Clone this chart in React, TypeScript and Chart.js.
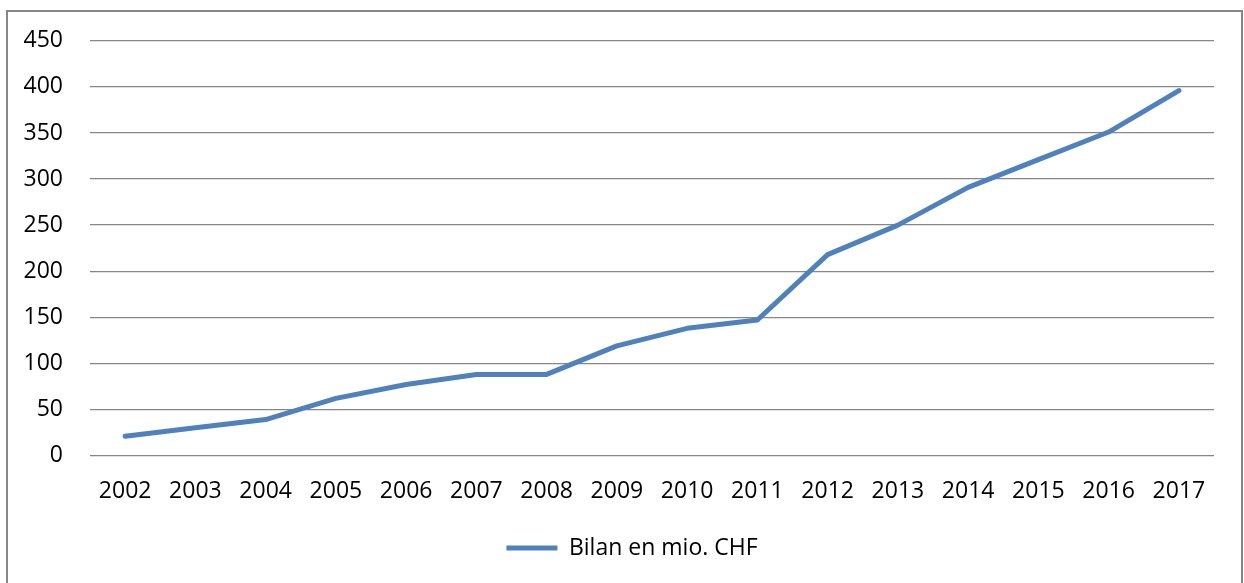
import React, { useEffect, useRef } from "react";
import { Chart, registerables } from "chart.js";

Chart.register(...registerables);

const years = ["2002", "2003", "2004", "2005", "2006", "2007", "2008", "2009", "2010", "2011", "2012", "2013", "2014", "2015", "2016", "2017"];
const bilan = [21, 30, 39, 62, 77, 88, 88, 119, 138, 147, 218, 250, 291, 321, 351, 396];
const seriesLabel = "Bilan en mio. CHF";
const lineColor = "#4F81BD";
const gridColor = "#878787";
const fontFamily = "'Open Sans', 'Noto Sans', sans-serif";

const borderPlugin = {
  id: "outerBorder",
  beforeDraw(chart: any) {
    const ctx = chart.ctx;
    ctx.save();
    ctx.fillStyle = "#ffffff";
    ctx.fillRect(0, 0, chart.width, chart.height);
    ctx.strokeStyle = gridColor;
    ctx.lineWidth = 2;
    ctx.strokeRect(7, 11, 1235, 600);
    ctx.restore();
  },
};

// centre the legend on the whole chart frame rather than only the layout box
const legendShiftPlugin = {
  id: "legendShift",
  afterLayout(chart: any) {
    const lg = chart.legend;
    if (lg) {
      lg.left += 50;
    }
  },
};

export default function App() {
  const ref = useRef<HTMLCanvasElement | null>(null);
  useEffect(() => {
    if (!ref.current) return;
    const chart = new Chart(ref.current, {
      type: "line",
      data: {
        labels: years,
        datasets: [
          {
            label: seriesLabel,
            data: bilan,
            borderColor: lineColor,
            backgroundColor: lineColor,
            borderWidth: 5,
            borderCapStyle: "round",
            borderJoinStyle: "round",
            pointRadius: 0,
            pointHoverRadius: 0,
            tension: 0,
            fill: false,
          },
        ],
      },
      plugins: [borderPlugin, legendShiftPlugin],
      options: {
        animation: false,
        responsive: false,
        maintainAspectRatio: false,
        layout: { padding: { left: 0, right: 30, top: 40, bottom: 13.5 } },
        scales: {
          x: {
            offset: true,
            grid: { display: false, drawTicks: false },
            border: { display: false },
            ticks: { color: "#000", font: { family: fontFamily, size: 23 }, padding: 22, maxRotation: 0, autoSkip: false },
            afterFit: (s: any) => { s.height = 71; },
          },
          y: {
            min: 0,
            max: 450,
            grid: { color: gridColor, lineWidth: 1.3, drawTicks: false },
            border: { display: false },
            ticks: { stepSize: 50, color: "#000", font: { family: fontFamily, size: 23 }, padding: 27 },
            afterFit: (s: any) => { s.width = 90; },
          },
        },
        plugins: {
          legend: {
            position: "bottom",
            labels: {
              color: "#000",
              font: { family: fontFamily, size: 23 },
              usePointStyle: true,
              pointStyle: "line",
              pointStyleWidth: 51,
              padding: 10,
            },
          },
          tooltip: { enabled: false },
        },
      },
    });
    return () => chart.destroy();
  }, []);
  return (
    <div style={{ position: "fixed", left: 0, top: 0, width: 1244, height: 583 }}>
      <canvas ref={ref} width={1244} height={583} style={{ display: "block" }} />
    </div>
  );
}
